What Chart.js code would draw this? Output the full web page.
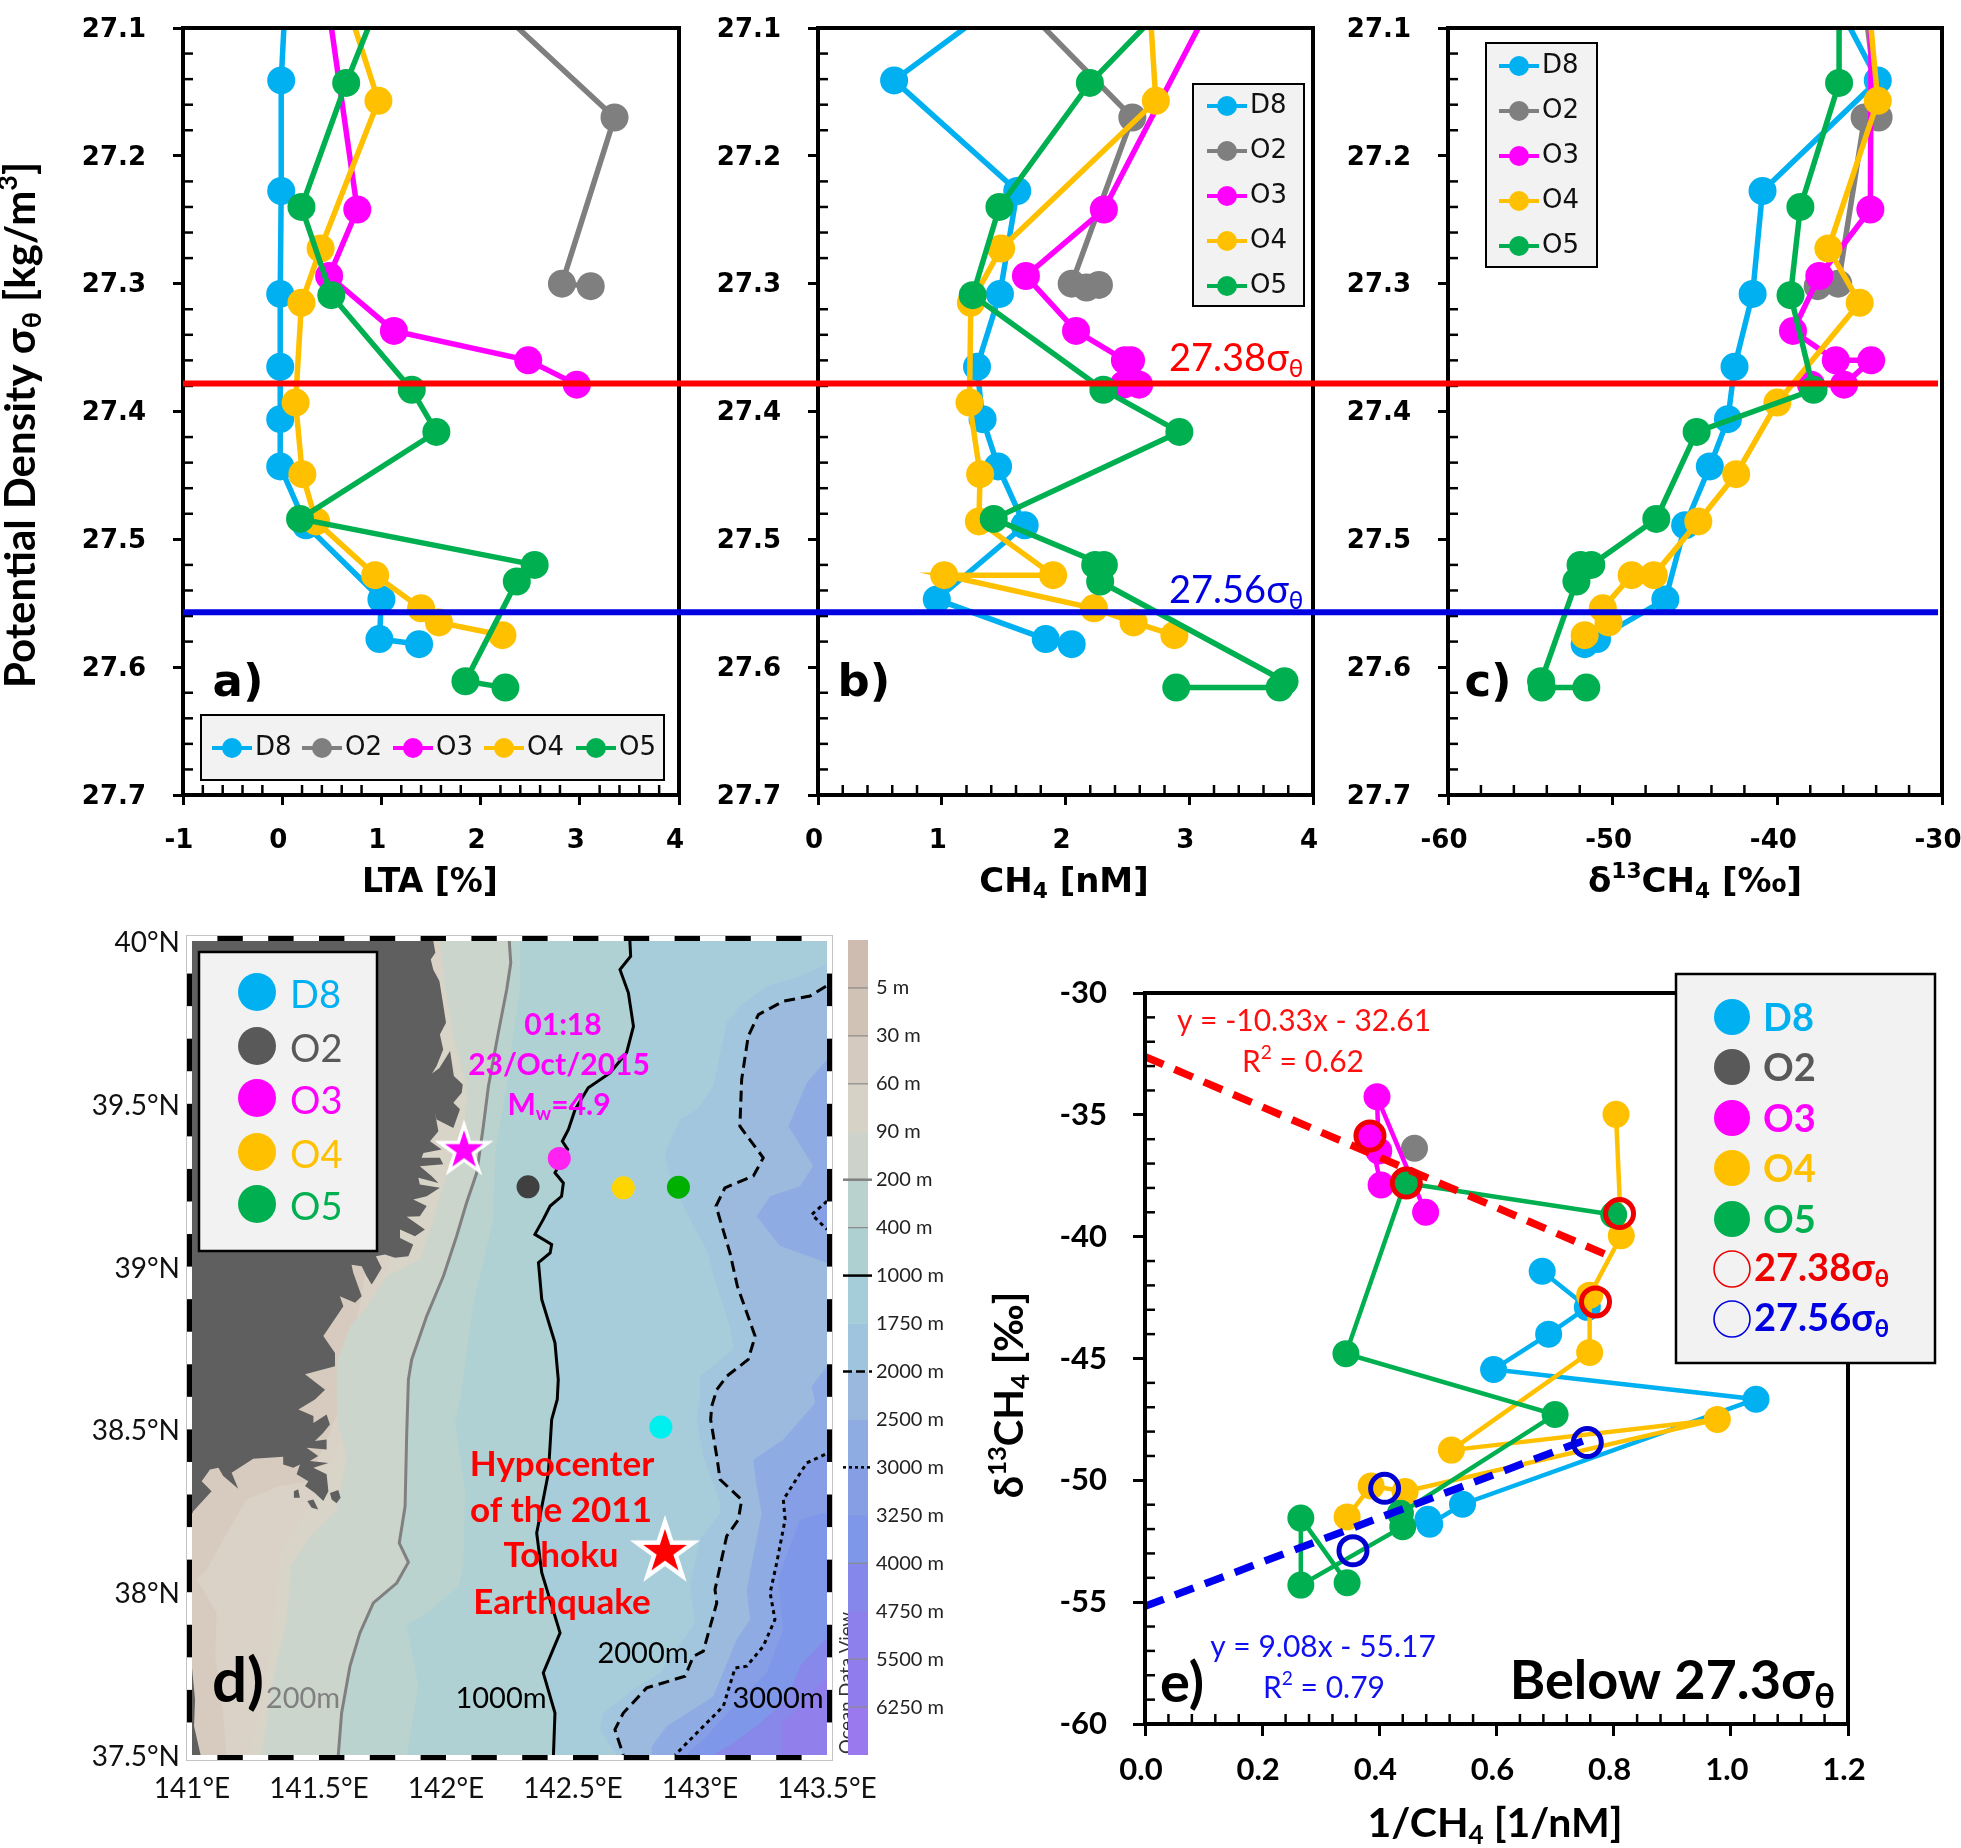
<!DOCTYPE html>
<html>
<head>
<meta charset="utf-8">
<title>LTA and methane profiles off Tohoku</title>
<script src="https://cdn.jsdelivr.net/npm/chart.js@4"></script>
<style>
  html, body { margin: 0; background: #fff; }
  #page { position: relative; width: 1961px; height: 1848px; overflow: hidden; }
  canvas { position: absolute; }
</style>
</head>
<body>
<div id="page"></div>
<script>
// station names and colours
const stations = ['D8', 'O2', 'O3', 'O4', 'O5'];
const stationColors = ['#00b0f0', '#7f7f7f', '#ff00ff', '#ffc000', '#00b050'];

// a) LTA vs density (first row of each list sits above the axis, it only gives the clipped line)
const sigmaD8 = [27.08, 27.141, 27.2275, 27.308, 27.365, 27.406, 27.443, 27.489, 27.547, 27.578, 27.582];
const ltaD8 = [0.03, -0.01, -0.01, -0.02, -0.02, -0.02, -0.02, 0.24, 1.0, 0.98, 1.38];
const sigmaO2a = [27.08, 27.17, 27.30, 27.302];
const ltaO2 = [2.10, 3.35, 2.82, 3.11];
const sigmaO3a = [27.08, 27.242, 27.294, 27.337, 27.36, 27.379];
const ltaO3 = [0.46, 0.757, 0.473, 1.126, 2.48, 2.97];
const sigmaO4a = [27.08, 27.157, 27.2725, 27.315, 27.393, 27.449, 27.486, 27.528, 27.554, 27.565, 27.575];
const ltaO4 = [0.65, 0.97, 0.387, 0.194, 0.135, 0.203, 0.342, 0.937, 1.40, 1.58, 2.22];
const sigmaO5a = [27.08, 27.143, 27.24, 27.309, 27.383, 27.416, 27.484, 27.52, 27.533, 27.611, 27.616];
const ltaO5 = [0.97, 0.645, 0.194, 0.495, 1.306, 1.554, 0.18, 2.545, 2.365, 1.847, 2.25];

// b) CH4 vs density
const ch4D8 = [1.466, 0.615, 1.61, 1.47, 1.285, 1.33, 1.455, 1.67, 0.96, 1.84, 2.05];
const sigmaO2b = [27.08, 27.17, 27.30, 27.303, 27.301];
const ch4O2 = [1.626, 2.54, 2.05, 2.17, 2.27];
const sigmaO3b = [27.08, 27.242, 27.294, 27.337, 27.36, 27.36, 27.379, 27.379];
const ch4O3 = [3.18, 2.31, 1.68, 2.085, 2.48, 2.53, 2.595, 2.47];
const sigmaO4b = [27.08, 27.157, 27.2725, 27.315, 27.393, 27.449, 27.486, 27.528, 27.528, 27.554, 27.565, 27.575];
const ch4O4 = [2.68, 2.73, 1.48, 1.235, 1.224, 1.31, 1.30, 1.90, 1.02, 2.23, 2.55, 2.88];
const sigmaO5b = [27.08, 27.143, 27.24, 27.309, 27.383, 27.416, 27.484, 27.52, 27.52, 27.533, 27.611, 27.616, 27.616];
const ch4O5 = [2.83, 2.197, 1.466, 1.25, 2.306, 2.92, 1.42, 2.31, 2.24, 2.28, 3.77, 3.73, 2.895];

// c) d13CH4 vs density
const d13D8 = [-36.4, -33.9, -40.9, -41.5, -42.6, -43.0, -44.1, -45.6, -46.8, -50.95, -51.7];
const sigmaO2c = [27.08, 27.17, 27.17, 27.30, 27.302];
const d13O2 = [-34.7, -33.85, -34.7, -36.3, -37.55];
const d13O3 = [-34.3, -34.35, -37.45, -39.05, -36.45, -34.3, -35.95, -37.95];
const d13O4 = [-34.45, -33.9, -36.9, -35.0, -40.0, -42.5, -44.8, -47.5, -48.85, -50.6, -50.25, -51.7];
const d13O5 = [-36.25, -36.25, -38.6, -39.2, -37.8, -44.9, -47.35, -51.3, -51.95, -52.2, -54.35, -54.3, -51.6];

// reference density levels
const levelX = [0, 1];
const level2738 = [27.378, 27.378];
const level2756 = [27.557, 27.557];

// e) Keeling plot
const invD8 = [0.678, 0.755, 0.689, 0.595, 1.043, 0.542, 0.486, 0.483];
const keelD8 = [-41.42, -42.9, -44.0, -45.45, -46.67, -50.98, -51.8, -51.6];
const invO2 = [0.46];
const keelO2 = [-36.37];
const invO3 = [0.479, 0.396, 0.399, 0.384, 0.403];
const keelO3 = [-39.0, -34.26, -36.48, -35.87, -37.88];
const invO4 = [0.804, 0.813, 0.759, 0.759, 0.523, 0.977, 0.444, 0.386, 0.345];
const keelO4 = [-34.98, -39.96, -42.4, -44.75, -48.76, -47.5, -50.46, -50.23, -51.5];
const invO5 = [0.80, 0.444, 0.343, 0.70, 0.436, 0.44, 0.266, 0.266, 0.345];
const keelO5 = [-39.1, -37.8, -44.8, -47.3, -51.35, -51.9, -54.3, -51.55, -54.2];
const ringRedX = [0.384, 0.446, 0.81, 0.769];
const ringRedY = [-35.87, -37.8, -39.05, -42.68];
const ringBlueX = [0.755, 0.409, 0.355];
const ringBlueY = [-48.45, -50.33, -52.89];
const trendRedX = [0, 0.796];
const trendRedY = [-32.61, -40.83];
const trendBlueX = [0, 0.76];
const trendBlueY = [-55.17, -48.27];

// d) map: station positions and earthquakes
const mapStationLon = [142.846, 142.323, 142.446, 142.698, 142.915];
const mapStationLat = [38.507, 39.245, 39.332, 39.242, 39.244];
const mapStationColors = ['#00f0f0', '#404040', '#ff22f0', '#ffd500', '#00b000'];
const quake2015 = [142.071, 39.357];
const quake2011 = [142.862, 38.124];

// d) land outline
const landLon = [141.95, 141.958, 141.94, 141.95, 141.974, 141.992, 142.0, 141.976, 141.989, 141.963, 141.945, 141.974, 142.016, 142.031, 142.066, 142.062, 142.029, 142.055, 142.029, 141.963, 141.957,
  141.97, 141.937, 141.983, 141.911, 141.904, 141.976, 141.989, 141.897, 141.943, 141.97, 141.891, 141.897, 141.976, 141.924, 141.871, 141.924, 141.897, 141.845, 141.917, 141.878, 141.819, 141.819, 141.871, 141.852, 141.799, 141.76, 141.724, 141.747, 141.72, 141.707, 141.687, 141.668, 141.628, 141.635, 141.668, 141.642, 141.582, 141.596,
  141.517, 141.563, 141.563, 141.445, 141.524,
  141.484, 141.419, 141.478, 141.478, 141.53, 141.543, 141.517, 141.484, 141.53, 141.53, 141.451, 141.497, 141.464, 141.537, 141.478, 141.53, 141.537, 141.517, 141.484, 141.445, 141.458, 141.412, 141.425, 141.399, 141.359, 141.359, 141.241, 141.156, 141.182, 141.123, 141.104, 141.071, 141.038, 141.077, 141.005, 141.0];
const landLat = [40.0, 39.964, 39.943, 39.912, 39.877, 39.79, 39.749, 39.713, 39.667, 39.616, 39.593, 39.61, 39.662, 39.585, 39.559, 39.534, 39.503, 39.483, 39.426, 39.452, 39.472,
  39.416, 39.385, 39.36, 39.349, 39.334, 39.334, 39.314, 39.308, 39.278, 39.257, 39.273, 39.252, 39.242, 39.216, 39.206, 39.186, 39.155, 39.153, 39.114, 39.093, 39.114, 39.088, 39.068, 39.032, 39.027, 39.037, 39.032, 38.996, 38.96, 38.945, 38.971, 39.001, 39.006, 38.981, 38.909, 38.889, 38.909, 38.878,
  38.787, 38.735, 38.694, 38.669, 38.622,
  38.592, 38.561, 38.541, 38.52, 38.546, 38.515, 38.49, 38.464, 38.469, 38.438, 38.444, 38.418, 38.403, 38.397, 38.382, 38.362, 38.31, 38.28, 38.305, 38.326, 38.341, 38.362, 38.392, 38.382, 38.392, 38.416, 38.41, 38.367, 38.318, 38.357, 38.382, 38.377, 38.341, 38.31, 38.249, 38.24];
const landSouthLon = [141.0, 141.012, 141.008, 141.034];
const landSouthLat = [37.767, 37.67, 37.588, 37.5];
const island1Lon = [141.543, 141.576, 141.585, 141.569, 141.55];
const island1Lat = [38.305, 38.314, 38.29, 38.273, 38.285];
const island2Lon = [141.454, 141.478, 141.497, 141.471];
const island2Lat = [38.28, 38.285, 38.254, 38.259];
const island3Lon = [141.401, 141.418, 141.425, 141.401];
const island3Lat = [38.31, 38.316, 38.29, 38.29];

// d) shelf bands
const shelf30Lon = [141.9, 141.6, 141.46, 141.346, 141.215, 141.123, 141.058, 141.018, 141.097, 141.091, 141.123, 141.136];
const shelf30Lat = [40.0, 38.6, 38.34, 38.326, 38.285, 38.162, 38.07, 38.04, 37.936, 37.803, 37.629, 37.5];
const shelf60Lon = [142.0, 141.7, 141.5, 141.346, 141.34, 141.294, 141.228];
const shelf60Lat = [40.0, 38.7, 38.3, 38.121, 38.04, 37.732, 37.5];
const shelf90Lon = [141.976, 141.996, 142.029, 142.075, 142.081, 142.075, 142.022, 142.002, 141.976, 141.943, 141.897, 141.766, 141.714, 141.681, 141.622, 141.57, 141.57, 141.576, 141.609, 141.589, 141.569, 141.478, 141.386, 141.386, 141.373, 141.32, 141.274];
const shelf90Lat = [40.0, 39.861, 39.708, 39.575, 39.523, 39.452, 39.329, 39.278, 39.216, 39.124, 39.022, 38.97, 38.909, 38.868, 38.817, 38.705, 38.592, 38.51, 38.418, 38.326, 38.254, 38.182, 38.08, 38.04, 37.916, 37.732, 37.5];

// d) isobaths
const iso200Lon = [142.249, 142.255, 142.239, 142.206, 142.167, 142.147, 142.121, 142.081, 142.042, 141.99, 141.924, 141.865, 141.852, 141.845, 141.839, 141.816, 141.852, 141.806, 141.714, 141.661, 141.622, 141.589, 141.576];
const iso200Lat = [40.0, 39.933, 39.851, 39.718, 39.554, 39.431, 39.288, 39.196, 39.094, 38.971, 38.848, 38.715, 38.653, 38.479, 38.264, 38.151, 38.092, 38.028, 37.967, 37.875, 37.773, 37.629, 37.5];
const iso400Lon = [142.291, 142.291, 142.239, 142.193, 142.186, 142.108, 142.055, 142.035, 142.075, 142.068, 142.049, 141.924, 141.845, 141.891, 141.845];
const iso400Lat = [40.0, 39.861, 39.554, 39.349, 39.145, 38.889, 38.592, 38.52, 38.315, 38.08, 38.018, 37.936, 37.9, 37.711, 37.5];
const iso1000Lon = [142.724, 142.727, 142.685, 142.718, 142.738, 142.711, 142.646, 142.56, 142.508, 142.482, 142.458, 142.479, 142.429, 142.462, 142.455, 142.41, 142.383, 142.35, 142.416, 142.41, 142.364, 142.377, 142.429, 142.442, 142.438, 142.416, 142.403, 142.357, 142.377, 142.449, 142.383, 142.429, 142.423];
const iso1000Lat = [40.0, 39.953, 39.912, 39.841, 39.738, 39.657, 39.595, 39.549, 39.482, 39.421, 39.385, 39.36, 39.288, 39.257, 39.216, 39.186, 39.145, 39.099, 39.068, 39.042, 39.012, 38.899, 38.766, 38.653, 38.592, 38.53, 38.366, 38.182, 38.06, 37.875, 37.752, 37.629, 37.5];
const iso1750Lon = [143.496, 143.394, 143.262, 143.158, 143.105, 143.053, 142.987, 142.921, 142.862, 142.882, 142.948, 143.026, 143.066, 143.118, 143.131, 143.0, 143.0, 142.987, 143.013, 143.079, 143.079, 143.0, 142.961, 142.98, 142.842, 142.738, 142.619, 142.606, 142.672];
const iso1750Lat = [39.928, 39.892, 39.861, 39.8, 39.749, 39.554, 39.482, 39.452, 39.349, 39.278, 39.165, 39.052, 38.94, 38.817, 38.746, 38.663, 38.592, 38.53, 38.417, 38.274, 38.244, 38.162, 38.018, 37.906, 37.752, 37.701, 37.629, 37.578, 37.5];
const iso2000Lon = [143.496, 143.433, 143.328, 143.23, 143.19, 143.164, 143.157, 143.249, 143.21, 143.098, 143.063, 143.118, 143.147, 143.217, 143.19, 143.105, 143.066, 143.046, 143.042, 143.066, 143.079, 143.164, 143.151, 143.105, 143.059, 143.066, 143.013, 142.974, 142.941, 142.79, 142.698, 142.665, 142.698];
const iso2000Lat = [39.861, 39.831, 39.815, 39.774, 39.708, 39.575, 39.431, 39.334, 39.278, 39.242, 39.186, 39.042, 38.94, 38.786, 38.715, 38.663, 38.622, 38.571, 38.53, 38.417, 38.346, 38.284, 38.223, 38.172, 38.008, 37.967, 37.819, 37.803, 37.742, 37.706, 37.629, 37.578, 37.5];
const iso2500nLon = [143.5, 143.42, 143.348, 143.446, 143.394, 143.276, 143.223, 143.315, 143.5];
const iso2500nLat = [39.636, 39.564, 39.431, 39.309, 39.247, 39.216, 39.155, 39.063, 39.012];
const iso2500sLon = [143.5, 143.44, 143.453, 143.328, 143.21, 143.223, 143.243, 143.184, 143.197, 143.144, 143.052, 142.869, 142.81, 142.81];
const iso2500sLat = [38.694, 38.633, 38.581, 38.469, 38.407, 38.325, 38.243, 38.008, 37.916, 37.854, 37.68, 37.588, 37.527, 37.5];
const iso3000Lon = [143.492, 143.42, 143.328, 143.335, 143.302, 143.276, 143.295, 143.249, 143.184, 143.138, 143.092, 142.961, 142.902];
const iso3000Lat = [38.423, 38.397, 38.284, 38.223, 38.09, 37.998, 37.916, 37.834, 37.773, 37.767, 37.65, 37.547, 37.5];
const iso3000nLon = [143.5, 143.44, 143.5];
const iso3000nLat = [39.201, 39.16, 39.114];
const iso3250Lon = [143.491, 143.394, 143.354, 143.308, 143.328, 143.262, 143.157, 143.026, 142.947];
const iso3250Lat = [38.243, 38.223, 38.141, 38.039, 37.885, 37.752, 37.67, 37.558, 37.5];
const iso4000Lon = [143.491, 143.394, 143.341, 143.236, 143.131, 143.052];
const iso4000Lat = [37.854, 37.773, 37.67, 37.598, 37.537, 37.5];
const iso4750Lon = [143.491, 143.367, 143.321, 143.321];
const iso4750Lat = [37.732, 37.629, 37.598, 37.5];

// d) colour bar
const depthLabels = ['5 m', '30 m', '60 m', '90 m', '200 m', '400 m', '1000 m', '1750 m', '2000 m', '2500 m', '3000 m', '3250 m', '4000 m', '4750 m', '5500 m', '6250 m'];
const depthColors = ['#cdbcaf', '#d0c3b6', '#d4cabf', '#d6d2c6', '#cdd3ca', '#b9d2cd', '#aed0d1', '#a5ccd9', '#9fc4de', '#9ab8de', '#8eace2', '#859ee4', '#7f97e8', '#8588ea', '#8d80ec', '#917cee', '#9a78ee'];

const LAND = '#5f5f5f';
const DEJA = '"DejaVu Sans"';
const LATO = 'Lato';

function pts(xs, ys) {
  return xs.map((x, i) => ({ x: x, y: ys[i] }));
}

function addCanvas(left, top, width, height) {
  const c = document.createElement('canvas');
  c.width = width;
  c.height = height;
  c.style.left = left + 'px';
  c.style.top = top + 'px';
  document.getElementById('page').appendChild(c);
  return c.getContext('2d');
}

// text with optional sub/superscript runs: parts = ['CH', ['4', 'sub'], ' [nM]']
function richText(ctx, parts, x, y, size, weight, family, color, align, rotate) {
  const runs = (Array.isArray(parts) ? parts : [parts]).map(p => Array.isArray(p) ? { t: p[0], k: p[1] } : { t: p, k: '' });
  let total = 0;
  runs.forEach(r => {
    r.size = r.k ? size * 0.64 : size;
    ctx.font = weight + ' ' + r.size + 'px ' + family;
    r.w = ctx.measureText(r.t).width;
    total += r.w;
  });
  ctx.save();
  ctx.translate(x, y);
  if (rotate) ctx.rotate(rotate);
  ctx.fillStyle = color;
  ctx.textBaseline = 'middle';
  ctx.textAlign = 'left';
  let cx = align === 'center' ? -total / 2 : align === 'right' ? -total : 0;
  runs.forEach(r => {
    ctx.font = weight + ' ' + r.size + 'px ' + family;
    const dy = r.k === 'sub' ? size * 0.28 : r.k === 'sup' ? -size * 0.3 : 0;
    ctx.fillText(r.t, cx, dy);
    cx += r.w;
  });
  ctx.restore();
}

// draws in page coordinates on top of a chart
function overlay(left, top, draw, hook) {
  const p = { id: 'ov' + Math.random().toString(36).slice(2) };
  p[hook || 'afterDatasetsDraw'] = chart => {
    const ctx = chart.ctx;
    ctx.save();
    ctx.translate(-left, -top);
    draw(ctx, chart, left, top);
    ctx.restore();
  };
  return p;
}

function isMajor(v, step) {
  return Math.abs(v / step - Math.round(v / step)) < 1e-6;
}

// thick box plus the short inward minor ticks
function boxAndMinors(ctx, chart, left, top, majorX, majorY) {
  const a = chart.chartArea;
  ctx.save();
  ctx.translate(left, top);
  ctx.strokeStyle = '#000';
  ctx.lineWidth = 2.5;
  chart.scales.x.ticks.forEach(t => {
    if (isMajor(t.value, majorX)) return;
    const px = chart.scales.x.getPixelForValue(t.value);
    ctx.beginPath(); ctx.moveTo(px, a.bottom); ctx.lineTo(px, a.bottom - 10); ctx.stroke();
  });
  chart.scales.y.ticks.forEach(t => {
    if (isMajor(t.value, majorY)) return;
    const py = chart.scales.y.getPixelForValue(t.value);
    ctx.beginPath(); ctx.moveTo(a.left, py); ctx.lineTo(a.left + 10, py); ctx.stroke();
  });
  ctx.lineWidth = 4;
  ctx.strokeRect(a.left, a.top, a.right - a.left, a.bottom - a.top);
  ctx.restore();
}

function linearAxes(o) {
  const axis = (min, max, step, major, fix, fmt, extra) => Object.assign({
    type: 'linear', min: min, max: max,
    border: { display: false },
    grid: {
      drawOnChartArea: false, tickLength: o.tickLen, tickWidth: 3,
      tickColor: c => (c.tick && isMajor(c.tick.value, major)) ? '#000' : 'rgba(0,0,0,0)'
    },
    ticks: {
      stepSize: step, autoSkip: false, maxRotation: 0, minRotation: 0,
      font: o.tickFont, color: '#000',
      callback: v => isMajor(v, major) ? fmt(v) : ''
    },
    afterFit: fix
  }, extra);
  const x = axis(o.xMin, o.xMax, o.xStep, o.xMajor, s => { s.height = o.xH; s.paddingLeft = 0; s.paddingRight = 0; }, o.xFmt);
  x.ticks.padding = o.xPad;
  x.ticks.labelOffset = -4;
  const y = axis(o.yMin, o.yMax, o.yStep, o.yMajor, s => { s.width = o.yW; s.paddingTop = 0; s.paddingBottom = 0; }, o.yFmt, { reverse: o.reverse });
  y.ticks.padding = o.yPad;
  y.ticks.labelOffset = o.yLabelOffset || 0;
  return { x: x, y: y };
}

function stationSets(series, radius, width) {
  return series.map((s, i) => ({
    label: stations[i],
    data: pts(s[0], s[1]),
    showLine: true,
    borderColor: stationColors[i],
    backgroundColor: stationColors[i],
    borderWidth: width,
    pointRadius: radius,
    pointBorderWidth: 0,
    pointBackgroundColor: stationColors[i],
    order: 10 + series.length - i
  }));
}

function lineLegend(ctx, boxX, boxY, boxW, boxH, items) {
  ctx.fillStyle = '#f2f2f2';
  ctx.fillRect(boxX, boxY, boxW, boxH);
  ctx.strokeStyle = '#000';
  ctx.lineWidth = 2;
  ctx.strokeRect(boxX, boxY, boxW, boxH);
  items.forEach((it, i) => {
    ctx.strokeStyle = stationColors[i];
    ctx.lineWidth = 4;
    ctx.beginPath(); ctx.moveTo(it[0] - 20, it[1]); ctx.lineTo(it[0] + 20, it[1]); ctx.stroke();
    ctx.fillStyle = stationColors[i];
    ctx.beginPath(); ctx.arc(it[0], it[1], 10, 0, Math.PI * 2); ctx.fill();
    richText(ctx, stations[i], it[0] + 23, it[1], 26, 'normal', DEJA, '#111', 'left');
  });
}

function profilePanel(o) {
  const top = 28, bottom = 795, canvasH = 900;
  const left = o.areaL - o.yW;
  const width = Math.min(1961 - left, o.yW + (o.areaR - o.areaL) + 40);
  const ctx = addCanvas(left, 0, width, canvasH);
  new Chart(ctx, {
    type: 'scatter',
    data: { datasets: stationSets(o.series, 14, 5.5) },
    options: {
      responsive: false, animation: false, devicePixelRatio: 1,
      layout: { padding: { top: top, right: width - o.yW - (o.areaR - o.areaL), left: 0, bottom: 0 } },
      plugins: { legend: { display: false }, tooltip: { enabled: false } },
      scales: linearAxes({
        xMin: o.xMin, xMax: o.xMax, xStep: o.xStep, xMajor: o.xMajor, xFmt: v => String(v), xH: canvasH - bottom, xPad: 21,
        yMin: 27.1, yMax: 27.7, yStep: 0.02, yMajor: 0.1, yFmt: v => v.toFixed(1), yW: o.yW, yPad: 27, reverse: true, yLabelOffset: 2,
        tickLen: 10, tickFont: { family: DEJA, size: 26, weight: 'bold' }
      })
    },
    plugins: [overlay(left, 0, (c, chart, l, t) => {
      boxAndMinors(c, chart, l, t, o.xMajor, 0.1);
      richText(c, o.title, o.titleX, 883, o.titleSize, 'bold', DEJA, '#000', 'center');
      richText(c, o.letter, o.letterX, 684, 45, 'bold', DEJA, '#000', 'center');
      if (o.extra) o.extra(c);
    })]
  });
}

profilePanel({
  areaL: 183, areaR: 679, yW: 183, xMin: -1, xMax: 4, xStep: 0.2, xMajor: 1,
  series: [[ltaD8, sigmaD8], [ltaO2, sigmaO2a], [ltaO3, sigmaO3a], [ltaO4, sigmaO4a], [ltaO5, sigmaO5a]],
  title: 'LTA [%]', titleX: 430, titleSize: 33, letter: 'a)', letterX: 238,
  extra: c => {
    lineLegend(c, 201, 715, 463, 65, [[232, 748], [322, 748], [413, 748], [504, 748], [596, 748]]);
    richText(c, ['Potential Density σ', ['θ', 'sub'], ' [kg/m', ['3', 'sup'], ']'], 21, 425, 42, 'bold', LATO, '#000', 'center', -Math.PI / 2);
  }
});

profilePanel({
  areaL: 818, areaR: 1313, yW: 125, xMin: 0, xMax: 4, xStep: 0.2, xMajor: 1,
  series: [[ch4D8, sigmaD8], [ch4O2, sigmaO2b], [ch4O3, sigmaO3b], [ch4O4, sigmaO4b], [ch4O5, sigmaO5b]],
  title: ['CH', ['4', 'sub'], ' [nM]'], titleX: 1064, titleSize: 34, letter: 'b)', letterX: 864,
  extra: c => lineLegend(c, 1193, 84, 111, 222, [[1227, 106], [1227, 151], [1227, 196], [1227, 241], [1227, 286]])
});

profilePanel({
  areaL: 1448, areaR: 1942, yW: 125, xMin: -60, xMax: -30, xStep: 2, xMajor: 10,
  series: [[d13D8, sigmaD8], [d13O2, sigmaO2c], [d13O3, sigmaO3b], [d13O4, sigmaO4b], [d13O5, sigmaO5b]],
  title: ['δ', ['13', 'sup'], 'CH', ['4', 'sub'], ' [‰]'], titleX: 1695, titleSize: 34, letter: 'c)', letterX: 1488,
  extra: c => lineLegend(c, 1486, 43, 111, 224, [[1519, 66], [1519, 111], [1519, 156], [1519, 201], [1519, 246]])
});

// the two density levels run through panels a, b and c
(function () {
  const left = 183, top = 28, width = 1755, height = 767;
  const ctx = addCanvas(left, top, width, height);
  const level = (ys, color) => ({ data: pts(levelX, ys), showLine: true, borderColor: color, borderWidth: 6, pointRadius: 0 });
  new Chart(ctx, {
    type: 'scatter',
    data: { datasets: [level(level2738, '#ff0000'), level(level2756, '#0000e0')] },
    options: {
      responsive: false, animation: false, devicePixelRatio: 1,
      plugins: { legend: { display: false }, tooltip: { enabled: false } },
      scales: {
        x: { display: false, min: 0, max: 1 },
        y: { display: false, min: 27.1, max: 27.7, reverse: true }
      }
    },
    plugins: [overlay(left, top, c => {
      richText(c, ['27.38σ', ['θ', 'sub']], 1169, 359, 38, 'normal', LATO, '#ff0000', 'left');
      richText(c, ['27.56σ', ['θ', 'sub']], 1169, 591, 38, 'normal', LATO, '#0000e0', 'left');
    })]
  });
})();

// d) map
function starImage(fill, outer, inner) {
  const size = Math.ceil(outer * 2 + 4);
  const c = document.createElement('canvas');
  c.width = size;
  c.height = size;
  const g = c.getContext('2d');
  const path = R => {
    g.beginPath();
    for (let i = 0; i < 10; i++) {
      const r = i % 2 ? R * 0.382 : R;
      const a = -Math.PI / 2 + i * Math.PI / 5;
      g.lineTo(size / 2 + r * Math.cos(a), size / 2 + r * Math.sin(a));
    }
    g.closePath();
  };
  path(outer); g.fillStyle = '#fff'; g.fill();
  path(inner); g.fillStyle = fill; g.fill();
  return c;
}

(function () {
  const left = 0, top = 920, width = 900, height = 910;
  const areaL = 192, areaR = 827, areaT = 941, areaB = 1755;
  const ctx = addCanvas(left, top, width, height);

  const east = (lon, lat) => pts(lon.concat([143.7, 143.7]), lat.concat([lat[lat.length - 1], lat[0]]));
  const west = (lon, lat) => pts(lon.concat([140.8, 140.8]), lat.concat([lat[lat.length - 1], lat[0]]));
  const area = (points, color) => ({ data: points, showLine: true, fill: 'shape', backgroundColor: color, borderWidth: 0, borderColor: color, pointRadius: 0 });
  const contour = (lon, lat, color, width, dash) => ({ data: pts(lon, lat), showLine: true, fill: false, borderColor: color, borderWidth: width, borderDash: dash, pointRadius: 0 });

  // painted in this order, later ones on top
  const layers = [
    area(east(shelf30Lon, shelf30Lat), '#dad2c6'),
    area(east(shelf60Lon, shelf60Lat), '#d8d4c8'),
    area(east(shelf90Lon, shelf90Lat), '#ccd5cc'),
    area(east(iso200Lon, iso200Lat), '#bbd3ce'),
    area(east(iso400Lon, iso400Lat), '#b0d1d3'),
    area(east(iso1000Lon, iso1000Lat), '#a6cdd9'),
    area(east(iso1750Lon, iso1750Lat), '#a2c6dd'),
    area(east(iso2000Lon, iso2000Lat), '#9bbade'),
    area(east(iso2500nLon, iso2500nLat), '#8eace3'),
    area(east(iso2500sLon, iso2500sLat), '#8eace3'),
    area(east(iso3000Lon, iso3000Lat), '#859ee5'),
    area(east(iso3000nLon, iso3000nLat), '#859ee5'),
    area(east(iso3250Lon, iso3250Lat), '#7f97e8'),
    area(east(iso4000Lon, iso4000Lat), '#8788ea'),
    area(east(iso4750Lon, iso4750Lat), '#9180ec'),
    area(west(landLon, landLat), LAND),
    area(west(landSouthLon, landSouthLat), LAND),
    area(pts(island1Lon, island1Lat), LAND),
    area(pts(island2Lon, island2Lat), LAND),
    area(pts(island3Lon, island3Lat), LAND),
    contour(iso200Lon, iso200Lat, '#808080', 3, []),
    contour(iso1000Lon, iso1000Lat, '#000', 3, []),
    contour(iso2000Lon, iso2000Lat, '#000', 3, [11, 6]),
    contour(iso3000Lon, iso3000Lat, '#000', 3, [4, 4]),
    contour(iso3000nLon, iso3000nLat, '#000', 3, [4, 4]),
    { data: pts(mapStationLon, mapStationLat), pointRadius: 11.5, pointBorderWidth: 0, pointBackgroundColor: mapStationColors },
    { data: [{ x: quake2015[0], y: quake2015[1] }], pointStyle: starImage('#ff00ff', 31, 20) },
    { data: [{ x: quake2011[0], y: quake2011[1] }], pointStyle: starImage('#ff0000', 37, 23) }
  ];
  layers.forEach((l, i) => { l.order = layers.length - i; });

  const fmtLon = v => v + '°E';
  const fmtLat = v => v + '°N';
  new Chart(ctx, {
    type: 'scatter',
    data: { datasets: layers },
    options: {
      responsive: false, animation: false, devicePixelRatio: 1,
      layout: { padding: { top: areaT - top, right: width - areaR, left: 0, bottom: 0 } },
      plugins: { legend: { display: false }, tooltip: { enabled: false } },
      scales: {
        x: {
          type: 'linear', min: 141, max: 143.5, border: { display: false }, grid: { display: false, drawTicks: false },
          ticks: { stepSize: 0.5, autoSkip: false, maxRotation: 0, padding: 17, font: { family: LATO, size: 28 }, color: '#111', callback: fmtLon },
          afterFit: s => { s.height = top + height - areaB; s.paddingLeft = 0; s.paddingRight = 0; }
        },
        y: {
          type: 'linear', min: 37.5, max: 40, border: { display: false }, grid: { display: false, drawTicks: false },
          ticks: { stepSize: 0.5, autoSkip: false, padding: 12, labelOffset: 2, font: { family: LATO, size: 28 }, color: '#111', callback: fmtLat },
          afterFit: s => { s.width = areaL - left; s.paddingTop = 0; s.paddingBottom = 0; }
        }
      }
    },
    plugins: [
      {
        id: 'mapGround',
        beforeDatasetsDraw(chart) {
          const a = chart.chartArea;
          chart.ctx.fillStyle = '#d6cbbe';
          chart.ctx.fillRect(a.left, a.top, a.right - a.left, a.bottom - a.top);
        }
      },
      overlay(left, top, (c, chart) => {
        const sx = chart.scales.x, sy = chart.scales.y;
        const a = chart.chartArea;
        const T = a.top + top, B = a.bottom + top, L = a.left + left, R = a.right + left;
        // alternating frame
        c.fillStyle = '#fff';
        c.fillRect(L - 5, T - 5, R - L + 10, 5);
        c.fillRect(L - 5, B, R - L + 10, 5);
        c.fillRect(L - 5, T - 5, 5, B - T + 10);
        c.fillRect(R, T - 5, 5, B - T + 10);
        c.fillStyle = '#000';
        for (let i = 1; i < 25; i += 2) {
          const x0 = sx.getPixelForValue(141 + i * 0.1) + left;
          const x1 = sx.getPixelForValue(141 + (i + 1) * 0.1) + left;
          c.fillRect(x0, T - 5, x1 - x0, 5);
          c.fillRect(x0, B, x1 - x0, 5);
          const y0 = sy.getPixelForValue(40 - i * 0.1) + top;
          const y1 = sy.getPixelForValue(40 - (i + 1) * 0.1) + top;
          c.fillRect(L - 5, y0, 5, y1 - y0);
          c.fillRect(R, y0, 5, y1 - y0);
        }
        c.strokeStyle = '#c4c4c4';
        c.lineWidth = 1;
        c.strokeRect(L - 5.5, T - 5.5, R - L + 11, B - T + 11);

        // station legend
        c.fillStyle = '#f2f2f2';
        c.fillRect(199, 952, 178, 299);
        c.strokeStyle = '#000';
        c.lineWidth = 2.5;
        c.strokeRect(199, 952, 178, 299);
        const legendColors = ['#00b0f0', '#595959', '#ff00ff', '#ffc000', '#00b050'];
        [992, 1046, 1098, 1152, 1204].forEach((y, i) => {
          c.fillStyle = legendColors[i];
          c.beginPath(); c.arc(257, y, 19, 0, Math.PI * 2); c.fill();
          richText(c, stations[i], 290, y + 4, 38, 'normal', LATO, legendColors[i], 'left');
        });

        const M = '#ff00ff', RED = '#ff0000';
        richText(c, '01:18', 563, 1025, 30, 'bold', LATO, M, 'center');
        richText(c, '23/Oct/2015', 559, 1065, 30, 'bold', LATO, M, 'center');
        richText(c, ['M', ['w', 'sub'], '=4.9'], 559, 1105, 30, 'bold', LATO, M, 'center');
        richText(c, 'Hypocenter', 562, 1465, 35, 'bold', LATO, RED, 'center');
        richText(c, 'of the 2011', 561, 1511, 35, 'bold', LATO, RED, 'center');
        richText(c, 'Tohoku', 561, 1556, 35, 'bold', LATO, RED, 'center');
        richText(c, 'Earthquake', 562, 1603, 35, 'bold', LATO, RED, 'center');
        richText(c, 'd)', 238, 1682, 62, 'bold', LATO, '#000', 'center');
        richText(c, '200m', 303, 1699, 29, 'normal', LATO, '#808080', 'center');
        richText(c, '1000m', 501, 1699, 29, 'normal', LATO, '#000', 'center');
        richText(c, '2000m', 643, 1654, 29, 'normal', LATO, '#000', 'center');
        richText(c, '3000m', 778, 1699, 29, 'normal', LATO, '#000', 'center');
      })
    ]
  });
})();

// d) colour bar beside the map
(function () {
  const left = 830, top = 930, width = 131, height = 830;
  const ctx = addCanvas(left, top, width, height);
  const thinLines = [1, 2, 3, 6, 13, 15, 16];
  new Chart(ctx, {
    type: 'bar',
    data: {
      labels: ['depth'],
      datasets: depthColors.map((col, i) => ({ data: [[i, i + 1]], backgroundColor: col, barPercentage: 1, categoryPercentage: 1 }))
    },
    options: {
      responsive: false, animation: false, devicePixelRatio: 1,
      layout: { padding: { top: 10, left: 18, right: 0, bottom: 5 } },
      plugins: { legend: { display: false }, tooltip: { enabled: false } },
      scales: {
        x: { display: false, stacked: true },
        y: {
          position: 'right', min: 0, max: 17, reverse: true, border: { display: false }, grid: { display: false, drawTicks: false },
          ticks: { stepSize: 1, autoSkip: false, padding: 8, font: { family: LATO, size: 20 }, color: '#222', callback: v => depthLabels[v - 1] || '' },
          afterFit: s => { s.width = 93; s.paddingTop = 0; s.paddingBottom = 0; }
        }
      }
    },
    plugins: [
      overlay(left, top, c => {
        richText(c, 'Ocean Data View', 847, 1683, 18.5, 'normal', LATO, '#333', 'center', -Math.PI / 2);
      }, 'beforeDatasetsDraw'),
      overlay(left, top, (c, chart) => {
        const y = v => chart.scales.y.getPixelForValue(v) + top;
        c.strokeStyle = '#8a8a8a';
        c.lineWidth = 1.2;
        thinLines.forEach(v => { c.beginPath(); c.moveTo(848, y(v)); c.lineTo(868, y(v)); c.stroke(); });
        const mark = (v, color, dash) => {
          c.strokeStyle = color; c.lineWidth = 2.5; c.setLineDash(dash);
          c.beginPath(); c.moveTo(843, y(v)); c.lineTo(872, y(v)); c.stroke();
          c.setLineDash([]);
        };
        mark(5, '#808080', []);
        mark(7, '#000', []);
        mark(9, '#000', [9, 4]);
        mark(11, '#000', [3, 3]);
      })
    ]
  });
})();

// e) Keeling plot
(function () {
  const left = 980, top = 960, width = 981, height = 888;
  const areaL = 1145, areaR = 1848, areaT = 993, areaB = 1724;
  const ctx = addCanvas(left, top, width, height);
  const trend = (xs, ys, color) => ({ data: pts(xs, ys), showLine: true, borderColor: color, borderWidth: 7.5, borderDash: [20, 12], pointRadius: 0, order: 2 });
  const rings = (xs, ys, color) => ({ data: pts(xs, ys), pointRadius: 14, pointBackgroundColor: 'rgba(0,0,0,0)', pointBorderColor: color, pointBorderWidth: 5, order: 1 });
  new Chart(ctx, {
    type: 'scatter',
    data: {
      datasets: stationSets([[invD8, keelD8], [invO2, keelO2], [invO3, keelO3], [invO4, keelO4], [invO5, keelO5]], 13.5, 4.5).concat([
        trend(trendRedX, trendRedY, '#ff0000'),
        trend(trendBlueX, trendBlueY, '#0000f0'),
        rings(ringRedX, ringRedY, '#ee0000'),
        rings(ringBlueX, ringBlueY, '#0000d0')
      ])
    },
    options: {
      responsive: false, animation: false, devicePixelRatio: 1,
      layout: { padding: { top: areaT - top, right: left + width - areaR, left: 0, bottom: 0 } },
      plugins: { legend: { display: false }, tooltip: { enabled: false } },
      scales: linearAxes({
        xMin: 0, xMax: 1.2, xStep: 0.04, xMajor: 0.2, xFmt: v => v.toFixed(1), xH: top + height - areaB, xPad: 15,
        yMin: -60, yMax: -30, yStep: 1, yMajor: 5, yFmt: v => String(v), yW: areaL - left, yPad: 26, reverse: false,
        tickLen: 12, tickFont: { family: LATO, size: 31, weight: 'bold' }
      })
    },
    plugins: [overlay(left, top, (c, chart, l, t) => {
      boxAndMinors(c, chart, l, t, 0.2, 5);
      richText(c, ['1/CH', ['4', 'sub'], ' [1/nM]'], 1495, 1824, 41, 'bold', LATO, '#000', 'center');
      richText(c, ['δ', ['13', 'sup'], 'CH', ['4', 'sub'], ' [‰]'], 1010, 1395, 40, 'bold', LATO, '#000', 'center', -Math.PI / 2);
      richText(c, 'y = -10.33x - 32.61', 1304, 1021, 30, 'normal', LATO, '#ff1010', 'center');
      richText(c, ['R', ['2', 'sup'], ' = 0.62'], 1303, 1062, 30, 'normal', LATO, '#ff1010', 'center');
      richText(c, 'y = 9.08x - 55.17', 1323, 1647, 30, 'normal', LATO, '#1010f0', 'center');
      richText(c, ['R', ['2', 'sup'], ' = 0.79'], 1324, 1688, 30, 'normal', LATO, '#1010f0', 'center');
      richText(c, 'e)', 1182, 1684, 56, 'bold', LATO, '#000', 'center');
      richText(c, ['Below 27.3σ', ['θ', 'sub']], 1835, 1682, 54, 'bold', LATO, '#000', 'right');

      // legend box sits over the plot corner
      c.fillStyle = '#f2f2f2';
      c.fillRect(1676, 974, 259, 389);
      c.strokeStyle = '#000';
      c.lineWidth = 2.5;
      c.strokeRect(1676, 974, 259, 389);
      const legendColors = ['#00b0f0', '#595959', '#ff00ff', '#ffc000', '#00b050'];
      [1017, 1067, 1118, 1168, 1219].forEach((y, i) => {
        c.fillStyle = legendColors[i];
        c.beginPath(); c.arc(1732, y, 18, 0, Math.PI * 2); c.fill();
        richText(c, stations[i], 1763, y + 2, 38, 'bold', LATO, legendColors[i], 'left');
      });
      [[1269, '#ee0000', '27.38σ'], [1319, '#0000e0', '27.56σ']].forEach(r => {
        c.strokeStyle = r[1];
        c.lineWidth = 1.6;
        c.beginPath(); c.arc(1732, r[0], 18, 0, Math.PI * 2); c.stroke();
        richText(c, [r[2], ['θ', 'sub']], 1754, r[0], 38, 'bold', LATO, r[1], 'left');
      });
    })]
  });
})();
</script>
</body>
</html>
